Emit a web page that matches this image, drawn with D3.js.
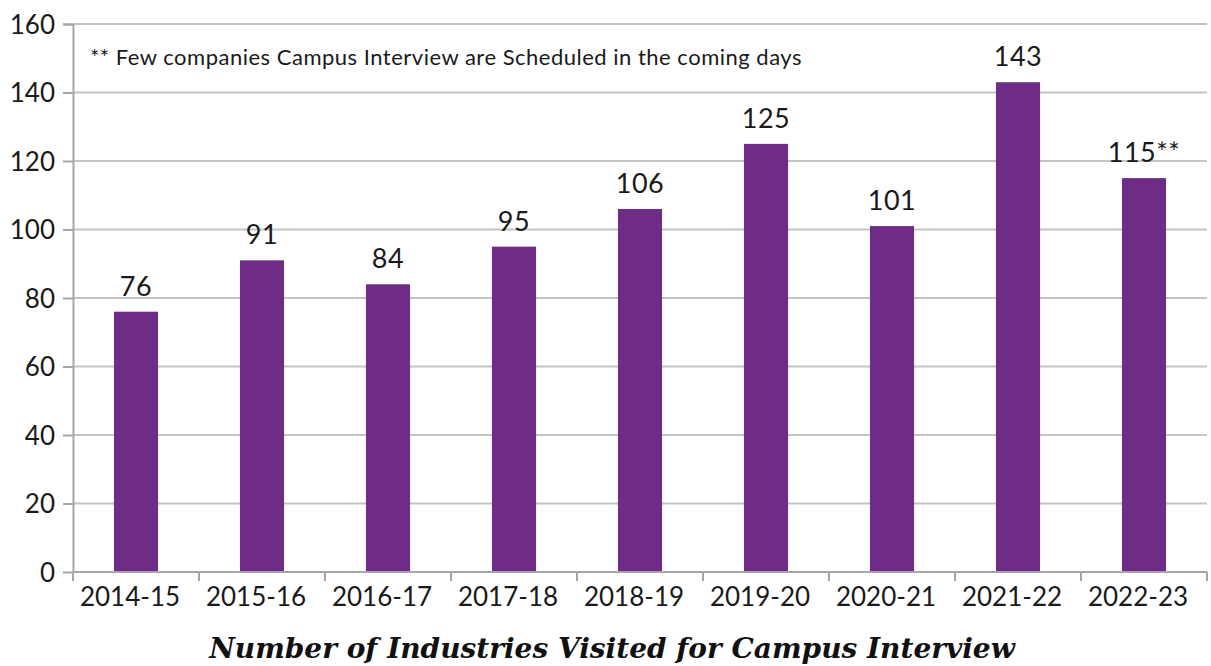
<!DOCTYPE html>
<html>
<head>
<meta charset="utf-8">
<script src="https://cdn.jsdelivr.net/npm/d3@7"></script>
<style>
  body { margin: 0; background: #fff; }
  .chart text { font-family: Lato, "Open Sans", sans-serif; fill: #1a1a1a; }
</style>
</head>
<body>
<div class="chart"></div>
<script>
// data
const years = ["2014-15", "2015-16", "2016-17", "2017-18", "2018-19", "2019-20", "2020-21", "2021-22", "2022-23"]
const industries = [76, 91, 84, 95, 106, 125, 101, 143, 115]
const valueLabels = ["76", "91", "84", "95", "106", "125", "101", "143", "115**"]
const yTicks = [0, 20, 40, 60, 80, 100, 120, 140, 160]
const note = "** Few companies Campus Interview are Scheduled in the coming days"
const title = "Number of Industries Visited for Campus Interview"

let outerWidth = 1211
let outerHeight = 666
let margin = {top: 24, bottom: 94, left: 73, right: 4}
let w = outerWidth - margin.left - margin.right
let h = outerHeight - margin.top - margin.bottom

const svg = d3.select(".chart")
    .append("svg")
    .attr("width", outerWidth)
    .attr("height", outerHeight)
    .append("g")
    .attr("transform", `translate(${margin.left}, ${margin.top})`)

const xScale = d3.scaleBand()
    .domain(years)
    .range([0, w])

const yScale = d3.scaleLinear()
    .domain([0, 160])
    .range([h, 0])

// gridlines
svg.append("g")
    .selectAll("line")
    .data(yTicks.slice(1))
    .join("line")
    .attr("x1", 0)
    .attr("x2", w)
    .attr("y1", d => yScale(d))
    .attr("y2", d => yScale(d))
    .attr("stroke", "#c4c4c4")
    .attr("stroke-width", 2)

// bars
const barW = xScale.bandwidth() * 0.35
svg.selectAll("rect.bar")
    .data(industries)
    .join("rect")
    .attr("class", "bar")
    .attr("x", (d, i) => xScale(years[i]) + (xScale.bandwidth() - barW) / 2)
    .attr("y", d => yScale(d))
    .attr("width", barW)
    .attr("height", d => h - yScale(d))
    .attr("fill", "#6f2c87")

// value labels
svg.selectAll("text.val")
    .data(industries)
    .join("text")
    .attr("class", "val")
    .attr("x", (d, i) => xScale(years[i]) + xScale.bandwidth() / 2)
    .attr("y", d => yScale(d) - 16)
    .attr("text-anchor", "middle")
    .style("font-size", "27px")
    .style("letter-spacing", "0.5px")
    .text((d, i) => valueLabels[i])

// y axis
const yAxis = d3.axisLeft(yScale)
    .tickValues(yTicks)
    .tickSize(10)
    .tickPadding(8)

svg.append("g")
    .attr("class", "axis y-axis")
    .call(yAxis)
    .call(g => g.selectAll("line, path").attr("stroke", "#a6a6a6").attr("stroke-width", 2))
    .call(g => g.selectAll("text").style("font-size", "26px").attr("dy", "0.36em"))
    .call(g => g.select(".domain").attr("d", `M-10,0.5H0.5V${h}`))

// x axis with ticks at band edges
const xAxis = d3.axisBottom(xScale).tickSize(0).tickPadding(14)

const xg = svg.append("g")
    .attr("class", "axis x-axis")
    .attr("transform", `translate(0, ${h})`)
    .call(xAxis)

xg.select(".domain").attr("d", `M0,0H${w}`).attr("stroke", "#a6a6a6").attr("stroke-width", 2)
xg.selectAll("text").style("font-size", "26px").attr("dy", "0.75em").attr("dx", -6)

xg.selectAll("line.edge")
    .data(d3.range(years.length + 1))
    .join("line")
    .attr("class", "edge")
    .attr("x1", i => i * xScale.step())
    .attr("x2", i => i * xScale.step())
    .attr("y1", 0)
    .attr("y2", 9)
    .attr("stroke", "#a6a6a6")
    .attr("stroke-width", 2)

// note
svg.append("text")
    .attr("x", 17)
    .attr("y", 41)
    .style("font-size", "22px")
    .style("letter-spacing", "0.5px")
    .text(note)

// title
svg.append("text")
    .attr("x", 612 - margin.left)
    .attr("y", h + 86)
    .attr("text-anchor", "middle")
    .style("font-family", "'DejaVu Serif', serif")
    .style("font-weight", "bold")
    .style("font-style", "italic")
    .style("font-size", "28px")
    .style("fill", "#111")
    .text(title)
</script>
</body>
</html>
